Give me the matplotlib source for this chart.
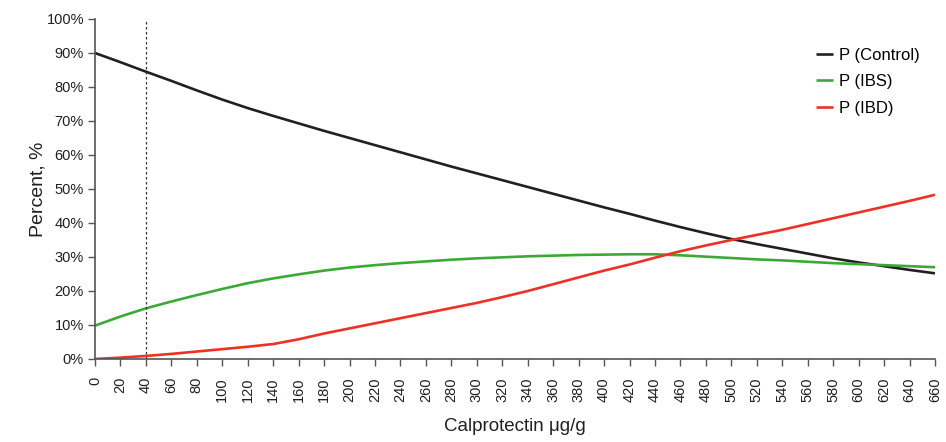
import matplotlib
matplotlib.use("Agg")
import matplotlib.pyplot as plt
import numpy as np

plt.rcParams['font.family'] = ['Liberation Sans', 'DejaVu Sans']

calprotectin = list(range(0, 661, 20))
p_control = [90, 87.3, 84.5, 81.8, 79, 76.3, 73.8, 71.5, 69.3, 67.1, 65, 62.9, 60.8, 58.7,
             56.6, 54.6, 52.6, 50.6, 48.6, 46.6, 44.6, 42.7, 40.7, 38.8, 37, 35.3, 33.8,
             32.4, 31, 29.6, 28.4, 27.3, 26.2, 25.2]
p_ibs = [9.8, 12.5, 14.9, 16.9, 18.8, 20.6, 22.3, 23.7, 24.9, 26, 26.9, 27.6, 28.2, 28.7,
         29.2, 29.6, 29.9, 30.2, 30.4, 30.6, 30.7, 30.8, 30.8, 30.5, 30.1, 29.7, 29.3,
         29, 28.6, 28.2, 27.9, 27.6, 27.3, 27.0]
p_ibd = [0, 0.4, 0.9, 1.5, 2.2, 2.9, 3.6, 4.4, 5.8, 7.5, 9, 10.5, 12, 13.5, 15, 16.5, 18.2,
         20, 22, 24, 26, 27.8, 29.8, 31.7, 33.4, 35, 36.5, 38, 39.7, 41.4, 43.1, 44.8,
         46.5, 48.3]
series_labels = ['P (Control)', 'P (IBS)', 'P (IBD)']
cutoff = 40
x_ticks = list(range(0, 661, 20))
y_ticks = list(range(0, 101, 10))

fig = plt.figure(figsize=(9.46, 4.42), dpi=100)
ax = fig.add_axes([95/946, 83/442, 840/946, 340/442])

colors = ['#231f20', '#3aaa35', '#ee3124']
for y, lab, c in zip([p_control, p_ibs, p_ibd], series_labels, colors):
    ax.plot(calprotectin, y, color=c, lw=1.9, label=lab, solid_capstyle='butt')

ax.axvline(cutoff, color='#333333', lw=0.9, linestyle=(0, (2, 2)))

ax.set_xlim(0, 660)
ax.set_ylim(0, 100)
ax.set_xticks(x_ticks)
ax.set_xticklabels([str(t) for t in x_ticks], rotation=90, fontsize=10.5, color='#231f20')
ax.set_yticks(y_ticks)
ax.set_yticklabels([f'{t}%' for t in y_ticks], fontsize=10.5, color='#231f20')
ax.tick_params(axis='both', direction='out', length=5, width=1, color='#555555', pad=3)
ax.tick_params(axis='x', pad=8)

for s in ['top', 'right']:
    ax.spines[s].set_visible(False)
for s in ['left', 'bottom']:
    ax.spines[s].set_color('#555555')
    ax.spines[s].set_linewidth(1.2)

ax.set_ylabel('Percent, %', fontsize=14, color='#231f20', labelpad=0)
ax.set_xlabel('Calprotectin \u03bcg/g', fontsize=13.5, color='#231f20', labelpad=12)

leg = ax.legend(loc='upper right', bbox_to_anchor=(1.0, 0.96), frameon=False,
                fontsize=12, handlelength=1.0, handletextpad=0.4, labelspacing=0.7)

fig.savefig('out.png', dpi=100)
